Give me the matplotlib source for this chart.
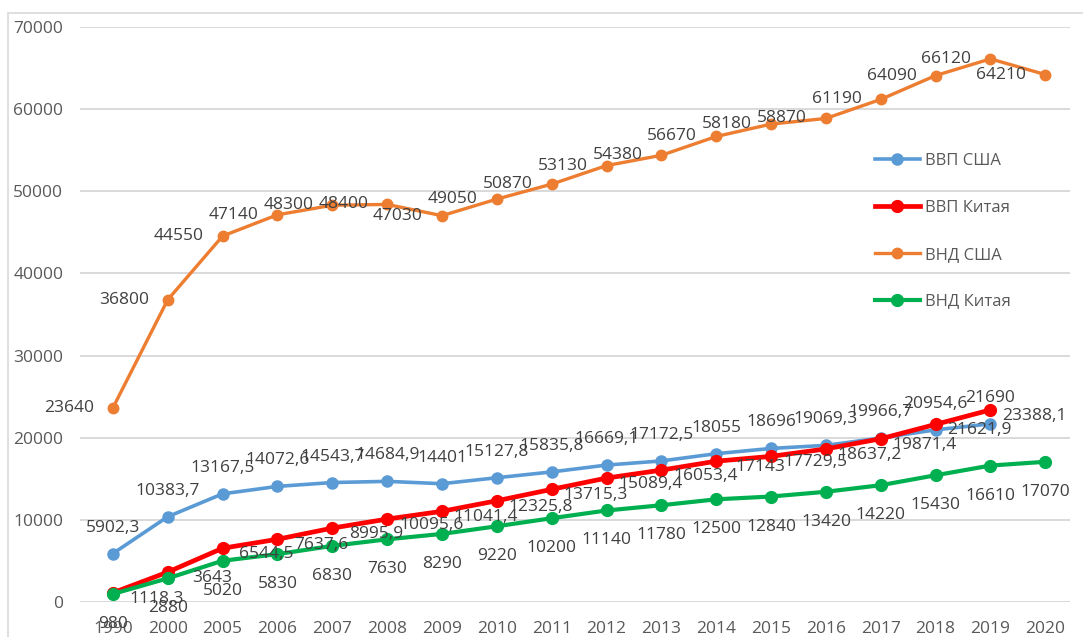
import matplotlib
matplotlib.use("Agg")
import matplotlib.pyplot as plt
from matplotlib.patches import Rectangle

plt.rcParams['font.family'] = ['Open Sans', 'DejaVu Sans']

# categories
years = ['1990', '2000', '2005', '2006', '2007', '2008', '2009', '2010', '2011',
         '2012', '2013', '2014', '2015', '2016', '2017', '2018', '2019', '2020']

# series (ВВП series end in 2019)
gdp_usa = [5902.3, 10383.7, 13167.5, 14072.6, 14543.7, 14684.9, 14401, 15127.8, 15835.8,
           16669.1, 17172.5, 18055, 18696, 19069.3, 19966.7, 20954.6, 21690]
gdp_china = [1118.3, 3643, 6544.5, 7637.6, 8995.9, 10095.6, 11041.4, 12325.8, 13715.3,
             15089.4, 16053.4, 17143, 17729.5, 18637.2, 19871.4, 21621.9, 23388.1]
gni_usa = [23640, 36800, 44550, 47140, 48300, 48400, 47030, 49050, 50870,
           53130, 54380, 56670, 58180, 58870, 61190, 64090, 66120, 64210]
gni_china = [980, 2880, 5020, 5830, 6830, 7630, 8290, 9220, 10200,
             11140, 11780, 12500, 12840, 13420, 14220, 15430, 16610, 17070]

labels = ['ВВП США', 'ВВП Китая', 'ВНД США', 'ВНД Китая']
yticks = [0, 10000, 20000, 30000, 40000, 50000, 60000, 70000]


def fmt(v):
    s = ('%.1f' % v).rstrip('0').rstrip('.')
    return s.replace('.', ',')


fig = plt.figure(figsize=(10.83, 6.37), dpi=100)
fig.patches.append(Rectangle((8 / 1083, -0.1), 1.2, 1.1 - 13 / 637 + 0.0,
                             transform=fig.transFigure, fill=False,
                             edgecolor='#d9d9d9', linewidth=1.2))
ax = fig.add_axes([80 / 1083, 35 / 637, 990 / 1083, 575 / 637])

lb = ax.plot(years[:len(gdp_usa)], gdp_usa, color='#5b9bd5', lw=2.6, marker='o', ms=8, label=labels[0], zorder=3)
lr = ax.plot(years[:len(gdp_china)], gdp_china, color='#ff0000', lw=3.4, marker='o', ms=8.5, label=labels[1], zorder=4)
lo = ax.plot(years, gni_usa, color='#ed7d31', lw=2.4, marker='o', ms=7.5, label=labels[2], zorder=5)
lg = ax.plot(years, gni_china, color='#00b050', lw=3.0, marker='o', ms=8.5, label=labels[3], zorder=6)

lab = dict(fontsize=12.5, color='#404040', textcoords='offset pixels', zorder=7, va='center')
for i, v in enumerate(gdp_usa):
    ax.annotate(fmt(v), (i, v), xytext=(0, 26), ha='center', **lab)
for i, v in enumerate(gdp_china):
    ax.annotate(fmt(v), (i, v), xytext=(44, -6), ha='center', **lab)
for i, v in enumerate(gni_usa):
    ax.annotate(fmt(v), (i, v), xytext=(-19, 0), ha='right', **lab)
for i, v in enumerate(gni_china):
    ax.annotate(fmt(v), (i, v), xytext=(0, -30), ha='center', **lab)

ax.set_xlim(-0.6, 17.45)
ax.set_ylim(0, 70000)
ax.set_yticks(yticks)
ax.set_yticklabels([str(t) for t in yticks])
ax.grid(axis='y', color='#d9d9d9', lw=1.4)
ax.set_axisbelow(True)
for s in ax.spines.values():
    s.set_visible(False)
ax.tick_params(axis='both', length=0, labelsize=12.5, labelcolor='#595959')
ax.tick_params(axis='x', pad=14)
ax.tick_params(axis='y', pad=12)

ax.legend(loc='upper left', bbox_to_anchor=(875 / 1083, 1 - 153 / 637),
          bbox_transform=fig.transFigure, frameon=False, fontsize=12,
          labelcolor='#595959', borderpad=0, borderaxespad=0,
          handlelength=2.7, handletextpad=0.3, labelspacing=1.85)

fig.savefig('out.png', dpi=100)
